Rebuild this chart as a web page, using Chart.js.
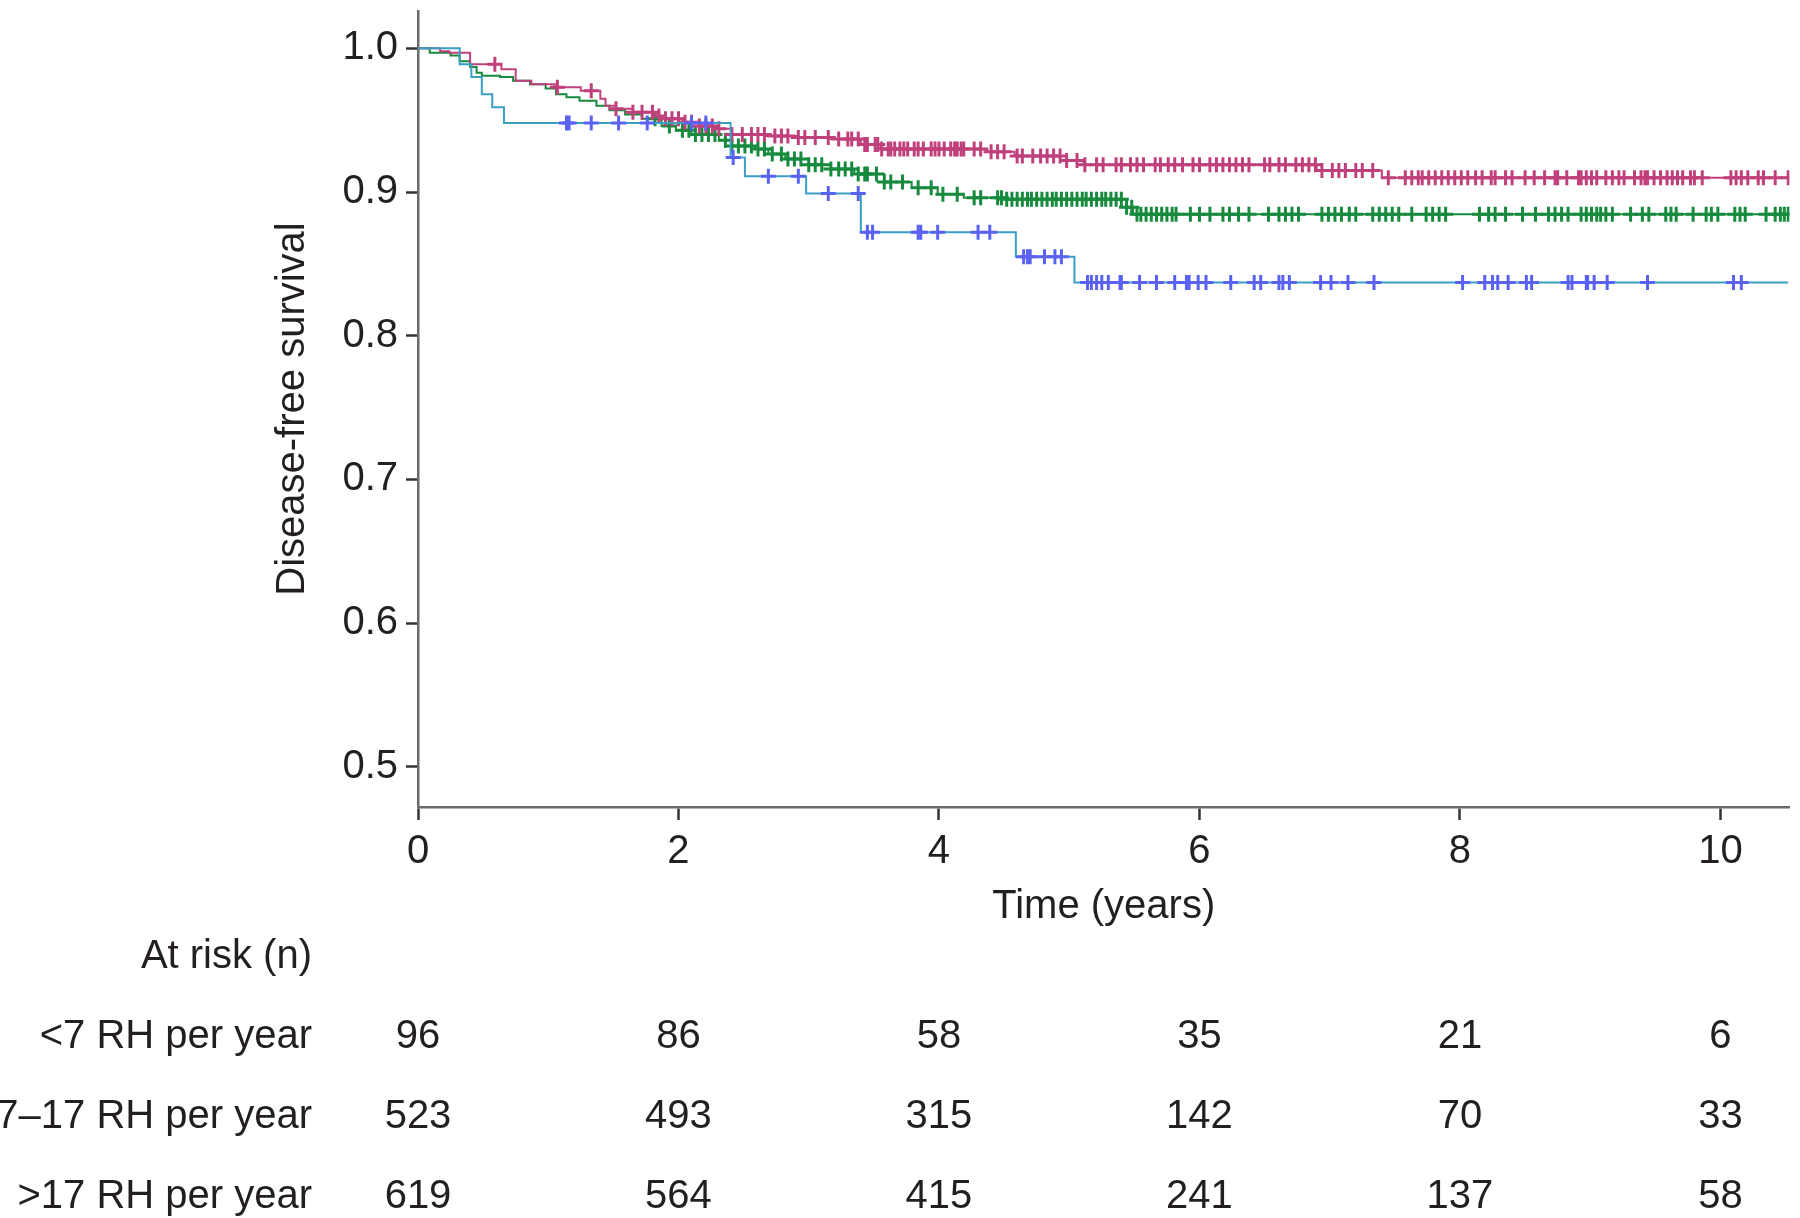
<!DOCTYPE html>
<html>
<head>
<meta charset="utf-8">
<script src="https://cdn.jsdelivr.net/npm/chart.js@4.4.1/dist/chart.umd.min.js"></script>
<style>
  html, body { margin: 0; padding: 0; background: #fff; }
  #wrap { width: 1800px; height: 1218px; }
</style>
</head>
<body>
<div id="wrap"><canvas id="km" width="1800" height="1218"></canvas></div>
<script>
// step curves: time (years) of each drop, survival after it
var lowT  = [0, 0.32, 0.41, 0.49, 0.57, 0.66, 2.40, 2.51, 2.98, 3.40, 4.59, 5.04];
var lowS  = [1.0, 0.989, 0.980, 0.968, 0.959, 0.948, 0.924, 0.911, 0.899, 0.872, 0.855, 0.837];
var lowCens = [1.14, 1.16, 1.33, 1.54, 1.76, 2.10, 2.21, 2.42, 2.69, 2.92, 3.15, 3.38, 3.45, 3.49,
  3.84, 3.86, 3.99, 4.30, 4.39, 4.65, 4.68, 4.70, 4.81, 4.89, 4.94, 5.14, 5.17, 5.21, 5.25, 5.30,
  5.39, 5.40, 5.54, 5.67, 5.81, 5.90, 5.92, 5.99, 6.05, 6.24, 6.42, 6.47, 6.61, 6.64, 6.69, 6.93,
  7.01, 7.14, 7.34, 8.02, 8.19, 8.25, 8.29, 8.37, 8.51, 8.55, 8.83, 8.86, 8.97, 8.98, 9.03, 9.13,
  9.44, 10.10, 10.16];

var midT  = [0, 0.09, 0.25, 0.32, 0.40, 0.45, 0.49, 0.63, 0.73, 0.86, 0.98, 1.06, 1.14, 1.24, 1.37,
  1.47, 1.59, 1.72, 1.87, 1.98, 2.10, 2.31, 2.41, 2.59, 2.69, 2.82, 3.00, 3.17, 3.35, 3.58, 3.79,
  3.99, 4.19, 4.50, 5.44, 5.49];
var midS  = [1.0, 0.997, 0.995, 0.991, 0.987, 0.983, 0.981, 0.980, 0.9775, 0.975, 0.972, 0.968,
  0.966, 0.9635, 0.960, 0.957, 0.954, 0.951, 0.946, 0.943, 0.940, 0.936, 0.932, 0.930, 0.9265,
  0.923, 0.919, 0.916, 0.9125, 0.907, 0.903, 0.8985, 0.896, 0.895, 0.8895, 0.8846];
var midCens = [1.82, 1.93, 2.03, 2.08, 2.13, 2.18, 2.23, 2.28, 2.36, 2.41, 2.46, 2.51, 2.56, 2.61,
  2.66, 2.72, 2.79, 2.84, 2.89, 2.94, 3.00, 3.05, 3.10, 3.17, 3.23, 3.28, 3.33, 3.38, 3.43, 3.45,
  3.52, 3.58, 3.63, 3.72, 3.84, 3.94, 4.03, 4.14, 4.27, 4.32, 4.45, 4.48, 4.52, 4.56, 4.60, 4.64,
  4.68, 4.71, 4.75, 4.79, 4.83, 4.87, 4.90, 4.94, 4.98, 5.02, 5.06, 5.10, 5.13, 5.17, 5.21, 5.25,
  5.28, 5.32, 5.36, 5.40, 5.44, 5.48, 5.52, 5.55, 5.59, 5.63, 5.67, 5.71, 5.75, 5.79, 5.82, 5.93,
  6.00, 6.08, 6.18, 6.23, 6.30, 6.38, 6.53, 6.61, 6.66, 6.71, 6.76, 6.94, 6.99, 7.04, 7.09, 7.15,
  7.20, 7.33, 7.38, 7.43, 7.48, 7.53, 7.63, 7.74, 7.79, 7.84, 7.89, 8.15, 8.22, 8.27, 8.35, 8.48,
  8.58, 8.68, 8.73, 8.78, 8.83, 8.93, 8.97, 9.01, 9.05, 9.08, 9.12, 9.17, 9.31, 9.40, 9.45, 9.58,
  9.62, 9.66, 9.79, 9.89, 9.93, 9.98, 10.11, 10.15, 10.19, 10.35, 10.42, 10.46, 10.49, 10.52];

var highT = [0, 0.17, 0.24, 0.40, 0.64, 0.75, 0.87, 1.05, 1.25, 1.40, 1.44, 1.52, 1.65, 1.84, 1.90,
  2.03, 2.16, 2.31, 2.41, 2.67, 2.92, 3.17, 3.40, 3.55, 4.37, 4.58, 4.98, 5.11, 6.90, 7.40];
var highS = [1.0, 0.998, 0.997, 0.989, 0.9855, 0.9775, 0.975, 0.973, 0.9705, 0.965, 0.960, 0.958,
  0.9555, 0.953, 0.951, 0.9485, 0.946, 0.944, 0.940, 0.939, 0.938, 0.937, 0.933, 0.930, 0.928,
  0.925, 0.922, 0.919, 0.915, 0.910];
var highCens = [0.59, 1.07, 1.33, 1.52, 1.65, 1.72, 1.80, 1.85, 1.90, 1.95, 2.00, 2.05, 2.10, 2.16,
  2.21, 2.26, 2.31, 2.41, 2.49, 2.56, 2.61, 2.66, 2.74, 2.79, 2.84, 2.92, 2.97, 3.05, 3.15, 3.23,
  3.30, 3.33, 3.38, 3.43, 3.45, 3.51, 3.53, 3.56, 3.61, 3.63, 3.66, 3.70, 3.73, 3.76, 3.81, 3.84,
  3.88, 3.94, 3.97, 4.00, 4.04, 4.09, 4.12, 4.14, 4.17, 4.19, 4.27, 4.32, 4.40, 4.45, 4.50, 4.60,
  4.64, 4.72, 4.78, 4.83, 4.88, 4.93, 4.98, 5.06, 5.12, 5.21, 5.26, 5.36, 5.40, 5.47, 5.52, 5.57,
  5.66, 5.70, 5.76, 5.81, 5.87, 5.95, 6.00, 6.08, 6.13, 6.18, 6.23, 6.28, 6.33, 6.38, 6.50, 6.54,
  6.61, 6.66, 6.74, 6.79, 6.84, 6.89, 6.94, 7.02, 7.07, 7.12, 7.20, 7.25, 7.33, 7.45, 7.58, 7.63,
  7.68, 7.71, 7.76, 7.81, 7.86, 7.91, 7.96, 8.01, 8.06, 8.12, 8.17, 8.24, 8.27, 8.35, 8.40, 8.50,
  8.57, 8.65, 8.73, 8.75, 8.82, 8.91, 8.93, 8.97, 9.01, 9.05, 9.12, 9.17, 9.22, 9.26, 9.34, 9.39,
  9.42, 9.44, 9.49, 9.54, 9.59, 9.63, 9.67, 9.71, 9.77, 9.80, 9.86, 10.08, 10.12, 10.16, 10.21,
  10.29, 10.33, 10.42, 10.52];

var endTime = 10.52;

var xTicks = [0, 2, 4, 6, 8, 10];
var yTicks = [0.5, 0.6, 0.7, 0.8, 0.9, 1.0];

// numbers at risk
var riskTimes  = [0, 2, 4, 6, 8, 10];
var riskLow    = [96, 86, 58, 35, 21, 6];
var riskMid    = [523, 493, 315, 142, 70, 33];
var riskHigh   = [619, 564, 415, 241, 137, 58];
var riskLabels = ['<7 RH per year', '7\u201317 RH per year', '>17 RH per year'];

var FONT = '"Liberation Sans", Arial, Helvetica, sans-serif';
var TEXT = '#231f20';

function stepAt(T, S, t) {
  var v = S[0];
  for (var i = 0; i < T.length; i++) if (T[i] <= t) v = S[i];
  return v;
}
function curve(T, S) {
  var pts = T.map(function(t, i) { return {x: t, y: S[i]}; });
  pts.push({x: endTime, y: S[S.length - 1]});
  return pts;
}
function marks(T, S, cens) {
  return cens.map(function(t) { return {x: t, y: stepAt(T, S, t)}; });
}

function lineSet(label, data, color, order) {
  return { label: label, data: data, borderColor: color, borderWidth: 2, stepped: true,
           pointRadius: 0, fill: false, order: order };
}
function markSet(label, data, color, order) {
  return { label: label, data: data, showLine: false, pointStyle: 'cross', pointRadius: 7.5,
           pointBorderWidth: 3, pointBorderColor: color, borderColor: color, order: order };
}

var riskTable = {
  id: 'riskTable',
  afterDraw: function(chart) {
    var ctx = chart.ctx, xs = chart.scales.x;
    ctx.save();
    ctx.font = '40px ' + FONT;
    ctx.fillStyle = TEXT;
    ctx.textBaseline = 'middle';
    ctx.textAlign = 'right';
    ctx.fillText('At risk (n)', 312, 957);
    var rows = [riskLow, riskMid, riskHigh];
    var rowY = [1037, 1117, 1197];
    rows.forEach(function(r, j) {
      ctx.textAlign = 'right';
      ctx.fillText(riskLabels[j], 312, rowY[j]);
      ctx.textAlign = 'center';
      r.forEach(function(n, i) {
        ctx.fillText(String(n), xs.getPixelForValue(riskTimes[i]), rowY[j]);
      });
    });
    ctx.restore();
  }
};

Chart.defaults.font.family = FONT;
Chart.defaults.color = TEXT;

new Chart(document.getElementById('km'), {
  type: 'line',
  data: {
    datasets: [
      lineSet('<7 RH per year', curve(lowT, lowS), '#3a9fc4', 1),
      markSet('<7 censored', marks(lowT, lowS, lowCens), '#5a62f4', 0),
      lineSet('7\u201317 RH per year', curve(midT, midS), '#178a3e', 5),
      markSet('7\u201317 censored', marks(midT, midS, midCens), '#178a3e', 4),
      lineSet('>17 RH per year', curve(highT, highS), '#c0407c', 3),
      markSet('>17 censored', marks(highT, highS, highCens), '#c0407c', 2)
    ]
  },
  options: {
    responsive: false,
    animation: false,
    devicePixelRatio: 1,
    layout: { padding: { top: 11, right: 6, left: 0, bottom: 0 } },
    plugins: { legend: { display: false }, tooltip: { enabled: false } },
    scales: {
      x: {
        type: 'linear', min: 0, max: 10.53,
        afterBuildTicks: function(s) { s.ticks = xTicks.map(function(v) { return {value: v}; }); },
        afterFit: function(s) { s.height = 411; s.paddingLeft = 0; s.paddingRight = 0; },
        ticks: { font: { size: 40 }, color: TEXT, padding: 8, maxRotation: 0,
                 callback: function(v) { return String(v); } },
        grid: { drawOnChartArea: false, drawTicks: true, tickLength: 13, tickWidth: 2.5, tickColor: '#333' },
        border: { display: true, color: '#6b6b6b', width: 2.5 },
        title: { display: true, text: 'Time (years)', font: { size: 40 }, color: TEXT,
                 padding: { top: 0, bottom: 287 } }
      },
      y: {
        type: 'linear', min: 0.472, max: 1.026,
        afterBuildTicks: function(s) { s.ticks = yTicks.map(function(v) { return {value: v}; }); },
        afterFit: function(s) { s.width = 418; s.paddingTop = 0; s.paddingBottom = 0; },
        ticks: { font: { size: 40 }, color: TEXT, padding: 8,
                 callback: function(v) { return v.toFixed(1); } },
        grid: { drawOnChartArea: false, drawTicks: true, tickLength: 12, tickWidth: 2.5, tickColor: '#333' },
        border: { display: true, color: '#6b6b6b', width: 2.5 },
        title: { display: true, text: 'Disease-free survival', font: { size: 40 }, color: TEXT,
                 padding: { top: 269, bottom: 0 } }
      }
    }
  },
  plugins: [riskTable]
});
</script>
</body>
</html>
